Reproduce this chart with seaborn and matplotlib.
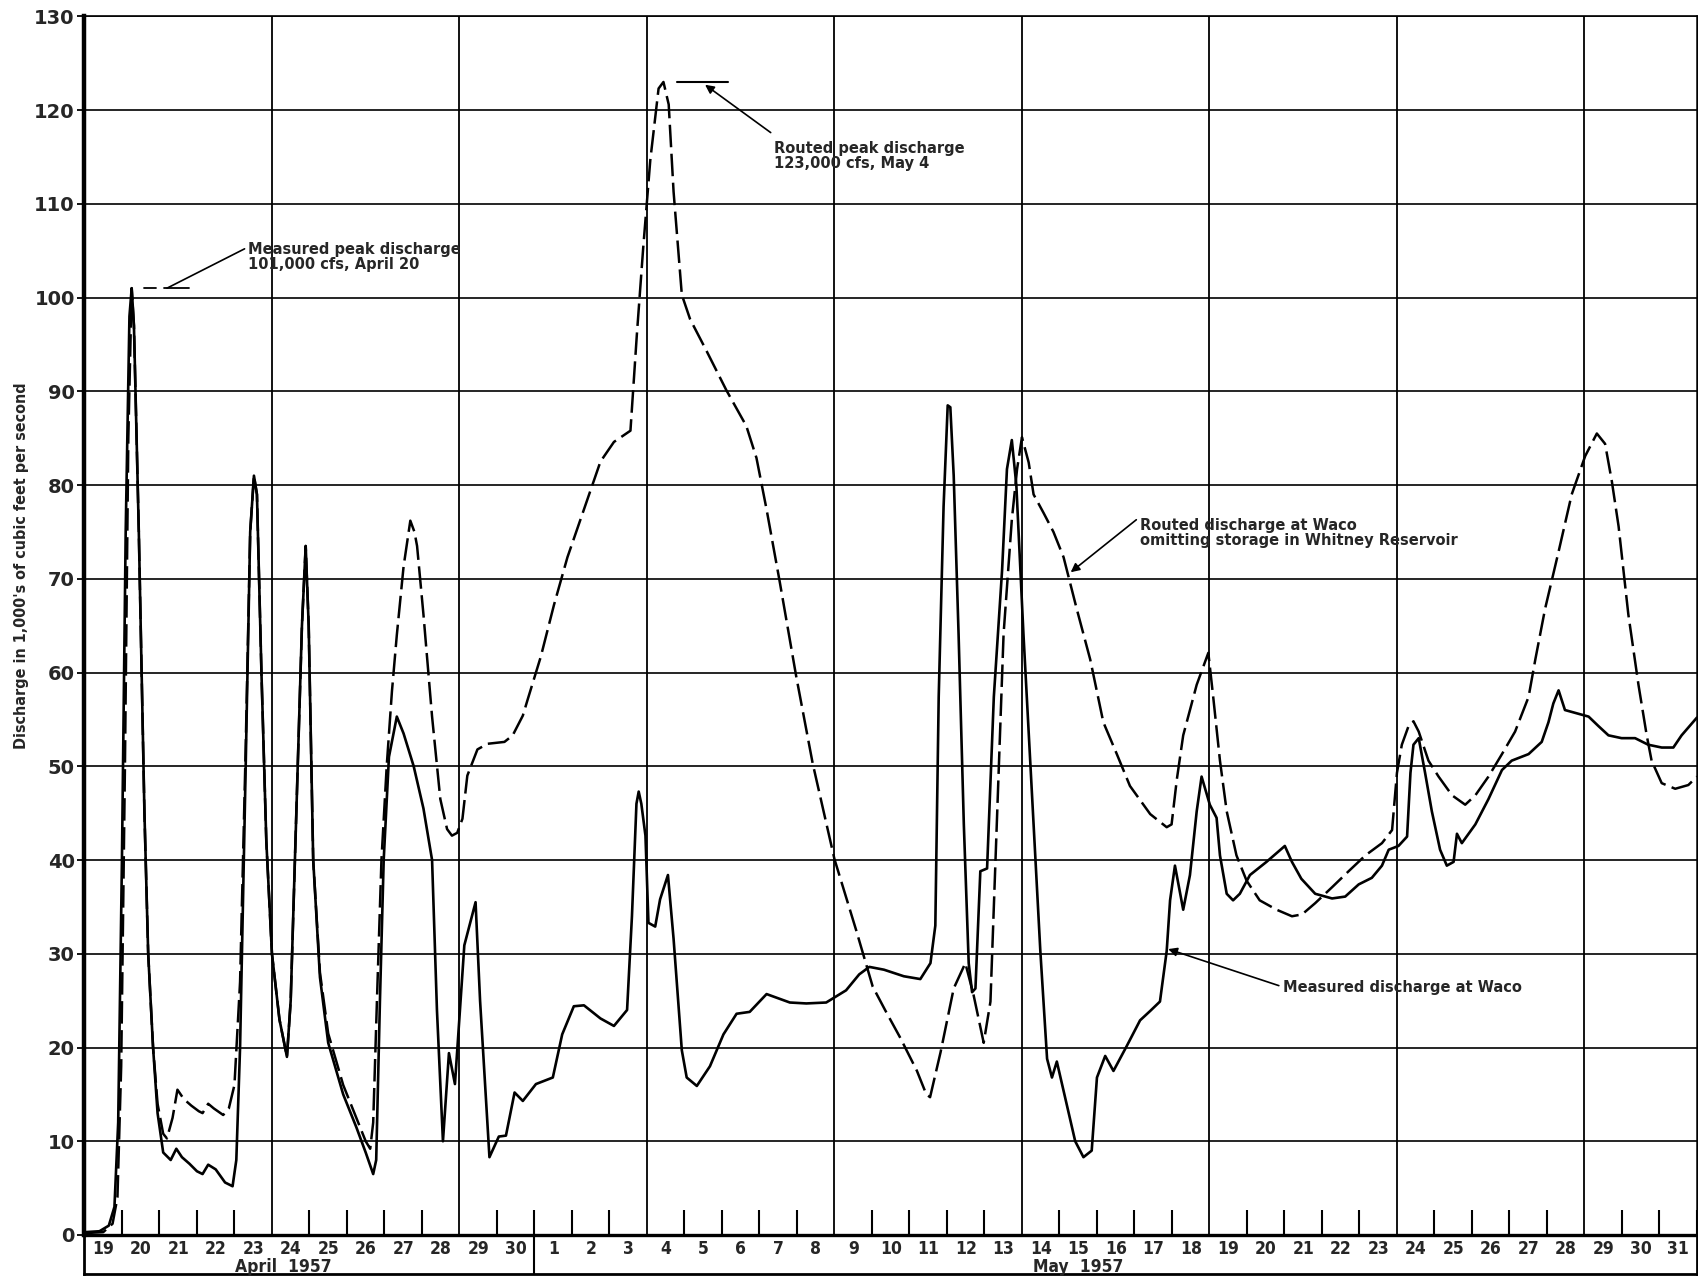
import numpy as np
import pandas as pd
import matplotlib
matplotlib.use("Agg")
import matplotlib.pyplot as plt
from matplotlib.ticker import MultipleLocator
from matplotlib import font_manager
import seaborn as sns

sns.set_theme(style="white")
plt.rcParams['font.family'] = ['DejaVu Sans']

# is a condensed DejaVu around? (for the y label and day numbers)
has_cond = any(f.name == 'DejaVu Sans' and str(f.stretch) in ('condensed', 'semi-condensed')
               for f in font_manager.fontManager.ttflist)
cond = 'condensed' if has_cond else 'normal'

# days counted from 19 April 1957, 00h ; discharge in 1,000 cfs
measured_day = [0, 0.4, 0.65, 0.8, 0.9, 1.0, 1.1, 1.2, 1.26, 1.32, 1.45, 1.6, 1.7, 1.83, 1.95,
                2.1, 2.3, 2.45, 2.6, 2.8, 3.0, 3.15, 3.3, 3.5, 3.75, 3.95, 4.05, 4.15, 4.3,
                4.42, 4.52, 4.6, 4.72, 4.85, 5.0, 5.2, 5.4, 5.5, 5.65, 5.8, 5.9, 5.98, 6.1,
                6.28, 6.5, 6.9, 7.25, 7.5, 7.7, 7.78, 7.88, 7.98, 8.12, 8.33, 8.51, 8.78,
                9.04, 9.27, 9.4, 9.56, 9.72, 9.88, 10.13, 10.43, 10.55, 10.8, 11.05, 11.24,
                11.47, 11.69, 12.04, 12.49, 12.74, 13.05, 13.32, 13.76, 14.12, 14.47, 14.6,
                14.72, 14.78, 14.85, 14.96, 15.04, 15.22, 15.35, 15.56, 15.71, 15.93, 16.06,
                16.33, 16.68, 17.04, 17.39, 17.74, 18.19, 18.81, 19.25, 19.78, 20.31, 20.66,
                20.93, 21.32, 21.85, 22.29, 22.56, 22.69, 22.78, 22.91, 23.02, 23.09, 23.18,
                23.31, 23.45, 23.58, 23.67, 23.76, 23.89, 24.07, 24.25, 24.47, 24.6, 24.73,
                24.85, 25.04, 25.31, 25.49, 25.67, 25.8, 25.93, 26.15, 26.42, 26.64, 26.86,
                27.0, 27.22, 27.44, 27.8, 28.15, 28.42, 28.68, 28.86, 28.95, 29.08, 29.3,
                29.48, 29.66, 29.79, 30.01, 30.19, 30.28, 30.46, 30.63, 30.81, 31.08, 31.52,
                32.01, 32.2, 32.45, 32.82, 33.27, 33.62, 33.98, 34.33, 34.6, 34.78, 35.04,
                35.27, 35.36, 35.44, 35.58, 35.75, 35.93, 36.15, 36.33, 36.51, 36.6, 36.73,
                37.09, 37.44, 37.8, 38.06, 38.51, 38.86, 39.04, 39.17, 39.31, 39.48, 39.75,
                40.11, 40.37, 40.64, 40.99, 41.35, 41.7, 42.06, 42.37, 42.59, 43.0]
measured_cfs = [0.3, 0.4, 1.0, 3, 12, 40, 75, 98, 101, 97, 75, 45, 30, 20, 13,
                8.8, 8.0, 9.2, 8.3, 7.6, 6.8, 6.5, 7.5, 7.0, 5.6, 5.2, 8, 20, 50,
                75, 81, 79, 60, 42, 30, 23, 19, 25, 45, 65, 73.5, 65, 40,
                27.5, 20.5, 15, 11.5, 8.8, 6.5, 8, 25, 40, 51, 55.3, 53.5, 50,
                45.5, 40, 24, 10, 19.4, 16.1, 30.9, 35.5, 25, 8.3, 10.5, 10.6,
                15.2, 14.3, 16.1, 16.8, 21.4, 24.4, 24.5, 23.1, 22.3, 24, 34,
                46, 47.3, 46, 42.6, 33.3, 32.9, 35.8, 38.4, 31.6, 19.7, 16.8,
                15.9, 18, 21.4, 23.6, 23.8, 25.7, 24.8, 24.7, 24.8, 26.1, 27.8,
                28.6, 28.3, 27.6, 27.3, 29, 33, 57.4, 77.7, 88.5, 88.3, 81,
                64.1, 43.8, 29, 25.9, 26.3, 38.8, 39.1, 57.4, 70.9, 81.7, 84.8,
                80, 64.1, 43.8, 30.3, 18.8, 16.8, 18.5, 14.7, 10, 8.3, 9,
                16.8, 19.1, 17.5, 20.2, 22.9, 23.9, 24.9, 30.3, 35.7, 39.4, 34.7,
                38.4, 45.2, 48.9, 45.9, 44.5, 40.5, 36.4, 35.7, 36.4, 38.4, 39.8,
                41.5, 39.8, 38.0, 36.4, 35.9, 36.1, 37.4, 38.1, 39.4, 41.1, 41.5,
                42.5, 49.3, 52.3, 53, 49.3, 45.2, 41.1, 39.4, 39.8, 42.8, 41.8,
                43.8, 46.5, 49.6, 50.6, 51.3, 52.6, 54.7, 56.7, 58.1, 56, 55.7,
                55.3, 54.3, 53.3, 53, 53, 52.3, 52, 52, 53.3, 55.2]

routed_day = [0, 0.5, 0.75, 0.88, 0.98, 1.08, 1.17, 1.26, 1.32, 1.45, 1.6, 1.7, 1.83, 1.95,
              2.1, 2.2, 2.35, 2.48, 2.65, 2.85, 3.05, 3.15, 3.3, 3.45, 3.7, 3.85, 4.0, 4.15,
              4.3, 4.42, 4.52, 4.6, 4.72, 4.85, 5.0, 5.2, 5.4, 5.5, 5.65, 5.8, 5.9, 5.98,
              6.1, 6.28, 6.5, 6.9, 7.25, 7.5, 7.62, 7.7, 7.8, 7.92, 8.06, 8.2, 8.33, 8.51,
              8.69, 8.8, 8.87, 9.04, 9.27, 9.49, 9.67, 9.8, 9.94, 10.08, 10.21, 10.48,
              10.75, 11.2, 11.42, 11.69, 11.81, 12.17, 12.52, 12.88, 13.32, 13.76, 14.12,
              14.56, 14.73, 14.9, 15.09, 15.31, 15.44, 15.58, 15.71, 15.93, 16.15, 16.59,
              17.12, 17.65, 17.92, 18.19, 18.54, 18.98, 19.42, 20.0, 20.58, 21.02, 21.35,
              21.76, 22.2, 22.45, 22.55, 22.83, 23.18, 23.49, 23.71, 23.98, 24.16, 24.33,
              24.51, 24.73, 24.87, 25.0, 25.18, 25.31, 25.58, 25.84, 26.11, 26.46, 26.82,
              27.17, 27.53, 27.88, 28.42, 28.86, 28.99, 29.13, 29.3, 29.66, 29.97, 30.1,
              30.28, 30.46, 30.72, 30.99, 31.34, 31.79, 32.2, 32.47, 32.82, 33.27, 33.71,
              34.16, 34.6, 34.87, 35.0, 35.13, 35.31, 35.44, 35.58, 35.84, 36.11, 36.47,
              36.82, 37.09, 37.44, 37.8, 38.15, 38.51, 38.69, 38.95, 39.31, 39.66, 40.02,
              40.33, 40.55, 40.73, 40.91, 41.17, 41.44, 41.66, 41.79, 42.06, 42.42, 42.77,
              43.0]
routed_cfs = [0.2, 0.3, 1.2, 4, 18, 50, 85, 101, 97, 75, 45, 30, 20, 14,
              10.8, 10.3, 12.5, 15.5, 14.5, 13.8, 13.2, 13, 14, 13.5, 12.8, 13.5, 16, 27,
              52, 75, 81, 79, 60, 42, 30, 23, 19, 25, 45, 65, 73.5, 65,
              40, 28, 21.5, 16, 12.5, 10, 9.2, 12, 25, 40, 50, 58, 64, 71.3,
              76.2, 75, 73.5, 66.2, 55.3, 46.5, 43.3, 42.6, 42.9, 44.4, 49, 51.8,
              52.4, 52.6, 53.3, 55.4, 57, 61.7, 67.2, 72.3, 77.4, 82.5, 84.6,
              85.8, 96, 105.3, 114.7, 122.3, 123, 120.6, 111.3, 100.3, 97.7, 94.3,
              90.1, 86.3, 82.9, 77.4, 69.7, 59.6, 50.3, 40.1, 32.5, 26.5, 24,
              21, 17.5, 15, 14.7, 19.5, 26.3, 29, 25.6, 20.5, 24.9, 43.8,
              64.1, 76.3, 81.7, 85.1, 82.4, 79, 77, 75, 72.3, 66.8, 61.4,
              54.7, 51.3, 47.9, 44.9, 43.5, 43.8, 48.6, 53.3, 58.7, 62.1, 57.4,
              50.6, 45.2, 40.5, 37.8, 35.7, 34.7, 34, 34.2, 35.4, 37.1, 38.8,
              40.5, 41.8, 43.2, 49.3, 52.3, 54.3, 54.8, 53.7, 50.6, 48.9, 46.9,
              45.9, 46.9, 48.9, 51.3, 53.7, 57.4, 61.4, 66.8, 72.9, 79, 83.1,
              85.5, 84.4, 80.4, 75.6, 66.2, 58.7, 53.3, 50.6, 48.2, 47.6, 48,
              48.9]

day_labels = ['19', '20', '21', '22', '23', '24', '25', '26', '27', '28', '29', '30'] + \
             [str(d) for d in range(1, 32)]
month_labels = ['April  1957', 'May  1957']

measured = pd.DataFrame({'day': measured_day, 'cfs': measured_cfs})
routed = pd.DataFrame({'day': routed_day, 'cfs': routed_cfs})

fig = plt.figure(figsize=(16.99, 12.77), dpi=100)
ax = fig.add_axes([0.0497, 0.0329, 0.9491, 0.9543])

sns.lineplot(data=measured, x='day', y='cfs', color='black', lw=1.9,
             sort=False, estimator=None, ax=ax)
sns.lineplot(data=routed, x='day', y='cfs', color='black', lw=1.8,
             sort=False, estimator=None, linestyle=(0, (9, 2.6)), ax=ax)

ax.set_xlim(0, 43)
ax.set_ylim(0, 130)
ax.set_xlabel('')
ax.set_ylabel('')

ax.xaxis.set_major_locator(MultipleLocator(5))
ax.xaxis.set_minor_locator(MultipleLocator(1))
ax.yaxis.set_major_locator(MultipleLocator(10))
ax.set_axisbelow(True)
ax.grid(axis='x', which='major', color='black', lw=1.3)
ax.grid(axis='y', which='major', color='black', lw=1.2)
ax.tick_params(axis='x', which='major', length=0, labelbottom=False)
ax.tick_params(axis='x', which='minor', direction='in', length=18, width=1.5,
               color='black', bottom=True, labelbottom=False)
ax.tick_params(axis='y', which='major', direction='out', length=5, width=1.3,
               color='black', left=True, pad=2, labelsize=14)
for lab in ax.get_yticklabels():
    lab.set_fontweight('bold')

for side, w in [('left', 3.2), ('bottom', 2.4), ('top', 1.2), ('right', 1.8)]:
    ax.spines[side].set_visible(True)
    ax.spines[side].set_color('black')
    ax.spines[side].set_linewidth(w)

ylab_size = 11.5 if has_cond else 10.5
fig.text(0.0128, 0.557, "Discharge in 1,000's of cubic feet per second", rotation=90,
         ha='center', va='center', fontsize=ylab_size, fontweight='bold', fontstretch=cond)

# label strip under the axis
sax = fig.add_axes([0.0497, 0.0023, 0.9491, 0.0306])
sax.set_xlim(0, 43)
sax.set_ylim(0, 1)
sax.set_xticks([])
sax.set_yticks([])
sax.set_facecolor('none')
for side in ['left', 'bottom', 'right']:
    sax.spines[side].set_visible(True)
    sax.spines[side].set_color('black')
    sax.spines[side].set_linewidth(2.0)
sax.spines['top'].set_visible(False)
sax.axvline(12, color='black', lw=1.5)
for i, lab in enumerate(day_labels):
    sax.text(i + 0.5, 0.64, lab, ha='center', va='center', fontsize=12.5,
             fontweight='bold', fontstretch=cond)
sax.text(5.3, 0.18, month_labels[0], ha='center', va='center', fontsize=12.5,
         fontweight='bold', fontstretch=cond)
sax.text(26.5, 0.18, month_labels[1], ha='center', va='center', fontsize=12.5,
         fontweight='bold', fontstretch=cond)

# annotations
afont = dict(fontsize=10.5, fontweight='bold', linespacing=1.0, ha='left', va='center')
arrow = dict(arrowstyle='-|>', color='black', lw=1.2, mutation_scale=13, shrinkA=0, shrinkB=0)

ax.plot([1.6, 1.92], [101, 101], color='black', lw=1.3)
ax.plot([2.12, 2.78], [101, 101], color='black', lw=1.3)
ax.plot([2.2, 4.27], [101, 105.2], color='black', lw=1.2)
ax.text(4.35, 104.3, "Measured peak discharge\n101,000 cfs, April 20", **afont)

ax.plot([15.8, 17.15], [123, 123], color='black', lw=1.5)
ax.annotate('', xy=(16.55, 122.7), xytext=(18.3, 117.6), arrowprops=arrow)
ax.text(18.38, 115.1, "Routed peak discharge\n123,000 cfs, May 4", **afont)

ax.annotate('', xy=(26.3, 70.7), xytext=(28.05, 76.3), arrowprops=arrow)
ax.text(28.15, 74.9, "Routed discharge at Waco\nomitting storage in Whitney Reservoir", **afont)

ax.annotate('', xy=(28.9, 30.5), xytext=(31.85, 26.6), arrowprops=arrow)
ax.text(31.95, 26.4, "Measured discharge at Waco", **afont)

fig.savefig('out.png', dpi=100, facecolor='white')
